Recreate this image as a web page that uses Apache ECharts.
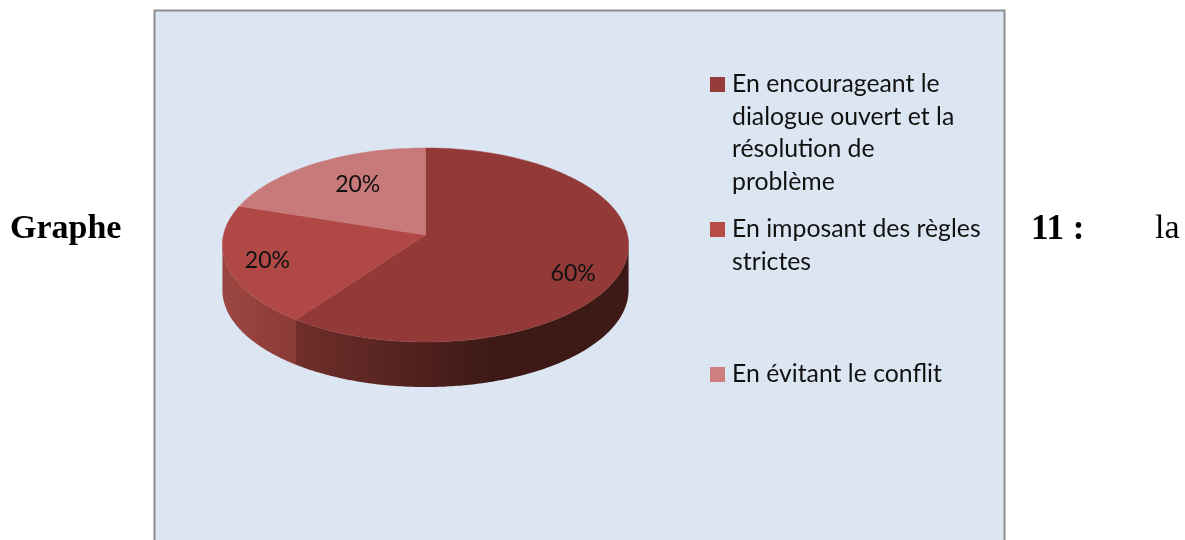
<!DOCTYPE html>
<html><head><meta charset="utf-8">
<style>html,body{margin:0;padding:0;background:#fff}#c{width:1185px;height:540px}</style>
<script src="https://cdn.jsdelivr.net/npm/echarts@6/dist/echarts.min.js"></script>
</head><body><div id="c"></div>
<script>
const categories = ["En encourageant le\ndialogue ouvert et la\nrésolution de\nproblème", "En imposant des règles\nstrictes", "En évitant le conflit"];
const values = [60, 20, 20];
const sliceColors = ["#933a38", "#b04845", "#c77a79"];
const legendColors = ["#953b39", "#b64b48", "#cd7f7e"];
const sideStops = [
  [[0, "#702e2a"], [0.6, "#3c1916"], [1, "#3d1a16"]],
  [[0, "#9b4641"], [0.35, "#96423d"], [1, "#8a3a35"]],
  null
];
const legendLineTops = [68, 213, 358];
const labelNudges = [[0, 16], [-10.5, 3], [16, 4]];

const APEX = [425.5, 235], RX = 202, RY = 96, K = 0.103, DEPTH = 45;
function pt(deg, r, dy) {
  const a = deg * Math.PI / 180, u = Math.sin(a) * r, v = Math.cos(a) * r, d = 1 + K * v;
  return [APEX[0] + RX * u / d, APEX[1] - RY * v / d + (dy || 0)];
}
function arc(a0, a1, dy) {
  const out = [], n = Math.max(2, Math.ceil(Math.abs(a1 - a0) * 1.5));
  for (let i = 0; i <= n; i++) out.push(pt(a0 + (a1 - a0) * i / n, 1, dy));
  return out;
}
const total = values.reduce((a, b) => a + b, 0);
let run = 0;
const seriesData = values.map(v => { const d = [v, run]; run += v; return d; });

function renderSlice(params, api) {
  const i = params.dataIndex, v = api.value(0), s = api.value(1);
  const a0 = s / total * 360, a1 = (s + v) / total * 360;
  const children = [];
  const f0 = Math.max(a0, 96), f1 = Math.min(a1, 264);
  if (f1 > f0 && sideStops[i]) {
    children.push({
      type: "polygon",
      shape: { points: arc(f0, f1, 0).concat(arc(f1, f0, DEPTH)) },
      style: { fill: new echarts.graphic.LinearGradient(0, 0, 1, 0,
        sideStops[i].map(p => ({ offset: p[0], color: p[1] }))) }
    });
  }
  children.push({
    type: "polygon",
    shape: { points: [APEX].concat(arc(a0, a1, 0)) },
    style: { fill: sliceColors[i], stroke: sliceColors[i], lineWidth: 0.5 }
  });
  const lp = pt((a0 + a1) / 2, 0.75, 0);
  children.push({
    type: "text", z2: 10,
    style: {
      x: lp[0] + labelNudges[i][0], y: lp[1] + labelNudges[i][1],
      text: v + "%", fill: "#111", font: "23px Lato",
      textAlign: "center", textVerticalAlign: "middle"
    }
  });
  return { type: "group", children };
}

const legendGraphics = [];
categories.forEach((c, i) => {
  legendGraphics.push({ type: "rect", left: 710, top: legendLineTops[i] + 9,
    shape: { width: 15, height: 15 }, style: { fill: legendColors[i] }, z: 5 });
  legendGraphics.push({ type: "text", left: 732, top: legendLineTops[i],
    style: { text: c, font: "24.8px Lato", lineHeight: 32.5, fill: "#111" }, z: 5 });
});

const chart = echarts.init(document.getElementById("c"), null, { renderer: "canvas" });
chart.setOption({
  backgroundColor: "#ffffff",
  animation: false,
  graphic: [
    { type: "rect", z: -10, shape: { x: 154.5, y: 10.5, width: 850, height: 560 },
      style: { fill: "#dce6f2", stroke: "#8e8e8e", lineWidth: 2 } },
    { type: "text", left: 10, top: 212, style: { text: "Graphe", font: "bold 34px 'Liberation Serif'", fill: "#000" } },
    { type: "text", left: 1031, top: 212, style: { text: "11 :", font: "bold 35px 'Liberation Serif'", fill: "#000" } },
    { type: "text", left: 1155, top: 212, style: { text: "la", font: "34px 'Liberation Serif'", fill: "#000" } }
  ].concat(legendGraphics),
  series: [{
    type: "custom", coordinateSystem: "none", renderItem: renderSlice,
    data: seriesData, silent: true, z: 3
  }]
});
</script></body></html>
